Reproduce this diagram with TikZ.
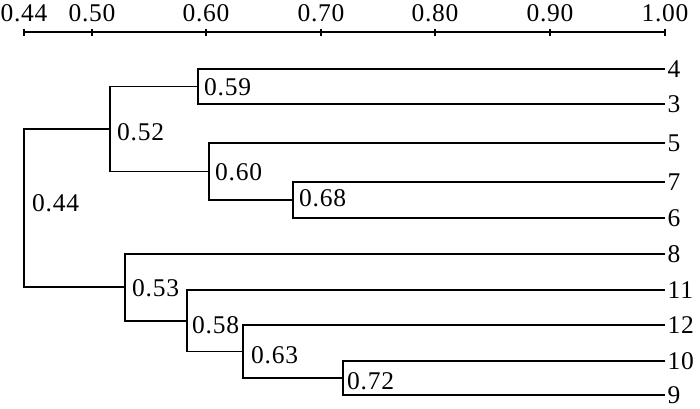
\documentclass[tikz,border=0pt]{standalone}
\usepackage{fontspec}
\setmainfont[LetterSpace=3]{Liberation Serif}
\usetikzlibrary{positioning, calc}
\tikzset{
	branch/.style={
			draw=black,
			line width=1.9pt
		},
	leafnode/.style={
			anchor=west,
			inner xsep=2.5pt,
			inner ysep=0pt,
			font=\fontsize{25.5}{30}\selectfont
		},
	simnode/.style={
			anchor=west,
			inner sep=0pt,
			font=\fontsize{25.5}{30}\selectfont
		},
	ticknode/.style={
			inner sep=0pt,
			font=\fontsize{25.5}{30}\selectfont
		}
}

\begin{document}
\begin{tikzpicture}[x=1pt, y=-1pt]
\useasboundingbox (0,0) rectangle (700,408);

% scale on top
\coordinate (t44) at (24,32);
\coordinate (t50) at (92,32);
\coordinate (t60) at (206,32);
\coordinate (t70) at (321,32);
\coordinate (t80) at (435,32);
\coordinate (t90) at (550,32);
\coordinate (t100) at (665,32);
\draw[branch] (t44) -- (t100);
\foreach \t/\v in {t44/0.44, t50/0.50, t60/0.60, t70/0.70, t80/0.80, t90/0.90, t100/1.00}{
	\draw[branch] ($(\t)+(0,-3.5)$) -- ($(\t)+(0,3.5)$);
	\node[ticknode] at ($(\t)+(0,-19)$) {\v};
}

% leaves
\node[leafnode] (l4) at (665,69)  {4};
\node[leafnode] (l3) at (665,104) {3};
\node[leafnode] (l5) at (665,143) {5};
\node[leafnode] (l7) at (665,182) {7};
\node[leafnode] (l6) at (665,218) {6};
\node[leafnode] (l8) at (665,254) {8};
\node[leafnode] (l11) at (665,290) {11};
\node[leafnode] (l12) at (665,325) {12};
\node[leafnode] (l10) at (665,361) {10};
\node[leafnode] (l9) at (665,395) {9};

% joins
\coordinate (c59) at (198,86.5);
\coordinate (c68) at (293,200);
\coordinate (c60) at (209,171.5);
\coordinate (c52) at (110,129);
\coordinate (c72) at (343,378);
\coordinate (c63) at (243,351.5);
\coordinate (c58) at (187,320.75);
\coordinate (c53) at (125,287.4);
\coordinate (c44) at (24,208.2);

\draw[branch] (l4.west) -| (c59) |- (l3.west);
\draw[branch] (l7.west) -| (c68) |- (l6.west);
\draw[branch] (l5.west) -| (c60) |- (c68);
\draw[branch] (c59) -| (c52) |- (c60);
\draw[branch] (l10.west) -| (c72) |- (l9.west);
\draw[branch] (l12.west) -| (c63) |- (c72);
\draw[branch] (l11.west) -| (c58) |- (c63);
\draw[branch] (l8.west) -| (c53) |- (c58);
\draw[branch] (c52) -| (c44) |- (c53);

% similarity values
\node[simnode] (s59) at (204,87)  {0.59};
\node[simnode] (s52) at (117,132) {0.52};
\node[simnode] (s60) at (215,172) {0.60};
\node[simnode] (s68) at (299,198) {0.68};
\node[simnode] (s44) at (32,203)  {0.44};
\node[simnode] (s53) at (132,288) {0.53};
\node[simnode] (s58) at (192,325) {0.58};
\node[simnode] (s63) at (251,355) {0.63};
\node[simnode] (s72) at (347,381) {0.72};

\end{tikzpicture}
\end{document}
